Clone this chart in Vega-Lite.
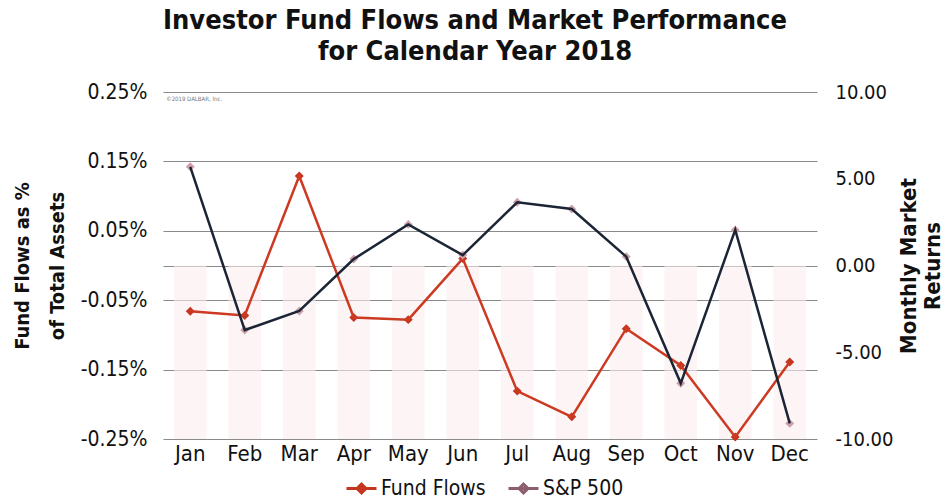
{
  "$schema": "https://vega.github.io/schema/vega-lite/v6.json",
  "width": 654,
  "height": 347,
  "autosize": "none",
  "padding": {"left": 163, "top": 92, "right": 132, "bottom": 60},
  "background": "white",
  "config": {
    "view": {"stroke": null},
    "font": "DejaVu Sans Condensed",
    "axis": {"labelFont": "DejaVu Sans Condensed", "titleFont": "DejaVu Sans Condensed", "labelColor": "#111", "titleColor": "#111"}
  },
  "title": {
    "text": ["Investor Fund Flows and Market Performance", "for Calendar Year 2018"],
    "font": "DejaVu Sans Condensed",
    "fontSize": 27,
    "fontWeight": "bold",
    "color": "#111",
    "anchor": "middle",
    "dx": -15,
    "offset": 15,
    "lineHeight": 31
  },
  "data": {
    "values": [
      {"month": "Jan", "series": "Fund Flows", "value": -0.066},
      {"month": "Feb", "series": "Fund Flows", "value": -0.072},
      {"month": "Mar", "series": "Fund Flows", "value": 0.129},
      {"month": "Apr", "series": "Fund Flows", "value": -0.075},
      {"month": "May", "series": "Fund Flows", "value": -0.078},
      {"month": "Jun", "series": "Fund Flows", "value": 0.010},
      {"month": "Jul", "series": "Fund Flows", "value": -0.181},
      {"month": "Aug", "series": "Fund Flows", "value": -0.218},
      {"month": "Sep", "series": "Fund Flows", "value": -0.091},
      {"month": "Oct", "series": "Fund Flows", "value": -0.144},
      {"month": "Nov", "series": "Fund Flows", "value": -0.247},
      {"month": "Dec", "series": "Fund Flows", "value": -0.139},
      {"month": "Jan", "series": "S&P 500", "value": 5.69},
      {"month": "Feb", "series": "S&P 500", "value": -3.72},
      {"month": "Mar", "series": "S&P 500", "value": -2.62},
      {"month": "Apr", "series": "S&P 500", "value": 0.37},
      {"month": "May", "series": "S&P 500", "value": 2.37},
      {"month": "Jun", "series": "S&P 500", "value": 0.6},
      {"month": "Jul", "series": "S&P 500", "value": 3.64},
      {"month": "Aug", "series": "S&P 500", "value": 3.26},
      {"month": "Sep", "series": "S&P 500", "value": 0.51},
      {"month": "Oct", "series": "S&P 500", "value": -6.79},
      {"month": "Nov", "series": "S&P 500", "value": 2.05},
      {"month": "Dec", "series": "S&P 500", "value": -9.1}
    ]
  },
  "encoding": {
    "x": {
      "field": "month",
      "type": "ordinal",
      "sort": ["Jan","Feb","Mar","Apr","May","Jun","Jul","Aug","Sep","Oct","Nov","Dec"],
      "scale": {"paddingInner": 0.4, "paddingOuter": 0.2},
      "axis": {"title": null, "labelAngle": 0, "labelFontSize": 22, "labelPadding": 4, "ticks": false, "domain": false, "grid": false}
    }
  },
  "layer": [
    {
      "transform": [{"filter": "datum.series == 'Fund Flows'"}],
      "encoding": {
        "y": {
          "field": "value",
          "type": "quantitative",
          "scale": {"domain": [-0.25, 0.25], "nice": false, "zero": false},
          "axis": {
            "title": ["Fund Flows as %", "of Total Assets"],
            "titleFontSize": 20,
            "titleFontWeight": "bold",
            "titlePadding": 13,
            "titleLineHeight": 35,
            "values": [-0.25, -0.15, -0.05, 0, 0.05, 0.15, 0.25],
            "labelExpr": "datum.value == 0 ? '' : (datum.value < 0 ? '-' : '') + format(abs(datum.value), '.2f') + '%'",
            "labelFontSize": 21,
            "labelPadding": 16,
            "ticks": false,
            "domain": false,
            "grid": true,
            "gridColor": "#8a8a8a",
            "gridWidth": 1
          }
        }
      },
      "layer": [
        {
          "mark": {"type": "bar", "color": "#fcefef", "opacity": 0.6},
          "encoding": {"y": {"datum": 0}, "y2": {"datum": -0.25}}
        },
        {
          "mark": {"type": "text", "text": "©2019 DALBAR, Inc.", "align": "left", "baseline": "middle", "fontSize": 6, "color": "#777", "dx": -24},
          "transform": [{"filter": "datum.month == 'Jan'"}],
          "encoding": {"y": {"datum": 0.24}}
        },
        {
          "mark": {"type": "point", "shape": "diamond", "filled": true, "size": 80, "opacity": 1},
          "encoding": {
            "color": {"field": "series", "type": "nominal",
              "scale": {"domain": ["Fund Flows", "S&P 500"], "range": ["#c5361f", "#cfa0aa"]},
              "legend": {
                "orient": "none",
                "legendX": 182,
                "legendY": 380,
                "direction": "horizontal",
                "title": null,
                "labelFontSize": 21,
                "labelFont": "DejaVu Sans Condensed",
                "labelColor": "#111",
                "labelOffset": 3,
                "columnPadding": 16,
                "symbolType": "M-1,0H1M-0.3,0L0,-0.3L0.3,0L0,0.3Z",
                "symbolSize": 900,
                "symbolStrokeWidth": 3,
                "symbolOpacity": 1,
                "encode": {"symbols": {"update": {
                  "stroke": [{"test": "datum.value == 'Fund Flows'", "value": "#c5361f"}, {"value": "#8c5e6c"}],
                  "fill": [{"test": "datum.value == 'Fund Flows'", "value": "#c5361f"}, {"value": "#8c5e6c"}]
                }}}
              }
            }
          }
        },
        {
          "mark": {"type": "line", "strokeWidth": 2.5, "color": "#cc3a22"},
          "encoding": {}
        }
      ]
    },
    {
      "transform": [{"filter": "datum.series == 'S&P 500'"}],
      "encoding": {
        "y": {
          "field": "value",
          "type": "quantitative",
          "scale": {"domain": [-10, 10], "nice": false, "zero": false},
          "axis": {
            "orient": "right",
            "title": ["Monthly Market", "Returns"],
            "titleAngle": -90,
            "titleFontSize": 22,
            "titleFontWeight": "bold",
            "titlePadding": 4,
            "titleLineHeight": 24,
            "values": [-10, -5, 0, 5, 10],
            "labelExpr": "(datum.value < 0 ? '-' : '') + format(abs(datum.value), '.2f')",
            "labelFontSize": 20,
            "labelPadding": 18,
            "ticks": false,
            "domain": false,
            "grid": false
          }
        }
      },
      "layer": [
        {
          "mark": {"type": "point", "shape": "diamond", "filled": true, "size": 80, "opacity": 1},
          "encoding": {"color": {"field": "series", "type": "nominal"}}
        },
        {
          "mark": {"type": "line", "strokeWidth": 2.5, "color": "#1b2535"},
          "encoding": {}
        }
      ]
    }
  ],
  "resolve": {"scale": {"y": "independent"}}
}
